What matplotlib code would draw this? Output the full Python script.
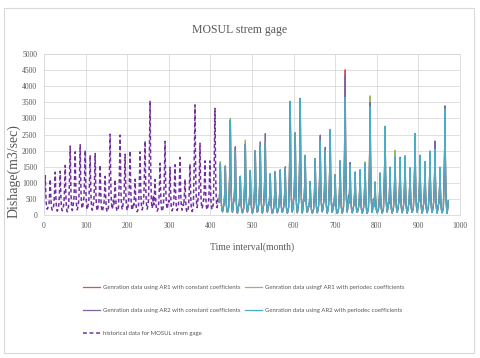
import matplotlib.pyplot as plt
import numpy as np
from matplotlib.patches import Rectangle

# annual peaks / lows (historical: months 0-419)
hist_peaks = [1220, 1110, 1330, 1360, 1540, 2140, 1960, 2180, 2010, 1860, 1910, 1550,
              1200, 2510, 1100, 2480, 1890, 1990, 1110, 1960, 2300, 3550, 1100, 1610,
              2290, 1480, 1560, 1790, 1110, 1580, 3420, 2230, 1680, 1680, 3310]
hist_lows = [180, 150, 120, 130, 100, 140, 160, 200, 170, 150, 130, 110, 100, 180, 120,
             170, 140, 150, 100, 160, 180, 210, 120, 110, 190, 130, 140, 150, 90, 110,
             230, 200, 160, 170, 230]

# generated data, months 421-972 (AR2 periodic = cyan, drawn on top)
gen_peaks = [1580, 1520, 2950, 2000, 1200, 2200, 1380, 2000, 2150, 2250, 1280, 1350,
             1400, 1450, 3520, 2550, 3620, 1850, 1040, 1750, 2300, 2000, 2650, 1250,
             1680, 3650, 1550, 1330, 1400, 1600, 3380, 1020, 1300, 2750, 1480, 1800,
             1760, 1830, 1460, 2530, 1850, 1650, 1980, 2050, 1480, 3300]
gen_lows = [100, 80, 90, 60, 70, 90, 60, 80, 60, 90, 50, 70, 80, 60, 90, 70, 60, 80,
            60, 70, 100, 60, 80, 50, 60, 90, 70, 80, 60, 50, 80, 70, 60, 90, 60, 80,
            70, 60, 80, 90, 60, 70, 80, 60, 70, 50]
# peaks where the other models overshoot the cyan line (year index: value)
ar1_const_peaks = {0: 1650, 3: 2120, 13: 1500, 25: 4510, 30: 3550, 43: 2200, 45: 3350}
ar1_per_peaks = {0: 1640, 2: 3000, 5: 2330, 14: 3540, 29: 1650, 30: 3700, 35: 2010}
ar2_const_peaks = {3: 2100, 8: 2270, 9: 2530, 20: 2480, 21: 2100, 25: 4330, 26: 1630,
                   30: 3490, 36: 1790, 43: 2300, 45: 3390}

hist_shape = [0.2, 0.4, 0.68, 1.0, 0.55, 0.25, 0.1, 0.03, 0.0, 0.03, 0.08, 0.12]
gen_shape = [0.2, 0.35, 0.6, 1.0, 0.5, 0.22, 0.1, 0.03, 0.0, 0.03, 0.08, 0.12]


def monthly(peaks, lows, shape):
    p = np.array(peaks, float)[:, None]
    lo = np.array(lows, float)[:, None]
    return (lo + (p - lo) * np.array(shape)[None, :]).ravel()


def with_peaks(over):
    p = list(gen_peaks)
    for k, v in over.items():
        p[k] = v
    return p


hist_y = monthly(hist_peaks, hist_lows, hist_shape)
hist_x = np.arange(len(hist_y))
gen_x = 421 + np.arange(len(gen_peaks) * 12)

fig = plt.figure(figsize=(4.8, 3.58), dpi=100)
ax = fig.add_axes([44 / 480, 1 - 215 / 358, 416 / 480, 161 / 358])

lh, = ax.plot(hist_x, hist_y, color='#7030A0', lw=1.1, ls=(0, (2.5, 1.8)),
              label='historical data for MOSUL strem gage')
l1, = ax.plot(gen_x, monthly(with_peaks(ar1_const_peaks), gen_lows, gen_shape),
              color='#E0504D', lw=0.9, label='Genration data using AR1 with constant coefficients')
l2, = ax.plot(gen_x, monthly(with_peaks(ar1_per_peaks), gen_lows, gen_shape),
              color='#9BBB59', lw=0.9, label='Genration data usingf AR1 with periodec coefficients')
l3, = ax.plot(gen_x, monthly(with_peaks(ar2_const_peaks), gen_lows, gen_shape),
              color='#8064A2', lw=0.9, label='Genration data using AR2 with constant coefficients')
l4, = ax.plot(gen_x, monthly(gen_peaks, gen_lows, gen_shape),
              color='#4BACC6', lw=0.9, label='Genration data using AR2 with periodec coefficients')

ax.set_xlim(0, 1000)
ax.set_ylim(0, 5000)
ax.set_xticks(np.arange(0, 1001, 100))
ax.set_yticks(np.arange(0, 5001, 500))
ax.grid(True, color='#D9D9D9', lw=0.6)
ax.set_axisbelow(True)
ax.tick_params(length=0, labelsize=5.5, labelcolor='#595959', pad=5)
for lab in ax.get_xticklabels() + ax.get_yticklabels():
    lab.set_family('Liberation Serif')
for s in ax.spines.values():
    s.set_color('#D9D9D9')
    s.set_linewidth(0.6)

fig.text(0.5, 1 - 30 / 358, 'MOSUL strem gage', ha='center', va='center',
         family='Liberation Serif', fontsize=8.5, color='#595959')
fig.text(252 / 480, 1 - 247 / 358, 'Time interval(month)', ha='center', va='center',
         family='Liberation Serif', fontsize=7, color='#595959')
fig.text(14 / 480, 1 - 171 / 358, 'Dishage(m3/sec)', ha='center', va='center',
         rotation=90, family='Liberation Serif', fontsize=10, color='#595959')

handles = [l1, l3, lh, l2, l4]
fig.legend(handles, [h.get_label() for h in handles],
           loc='upper left', bbox_to_anchor=(83 / 480, 1 - 285 / 358), ncol=2,
           frameon=False, borderpad=0, borderaxespad=0, handlelength=2.8,
           handletextpad=0.5, columnspacing=0.8, labelspacing=3.0,
           prop={'family': 'Lato', 'size': 4.3}, labelcolor='#595959')

fig.patches.append(Rectangle((4 / 480, 1 - 353 / 358), 470 / 480, 345 / 358,
                             transform=fig.transFigure, fill=False,
                             edgecolor='#D9D9D9', lw=0.8))

fig.savefig('out.png', dpi=100)
